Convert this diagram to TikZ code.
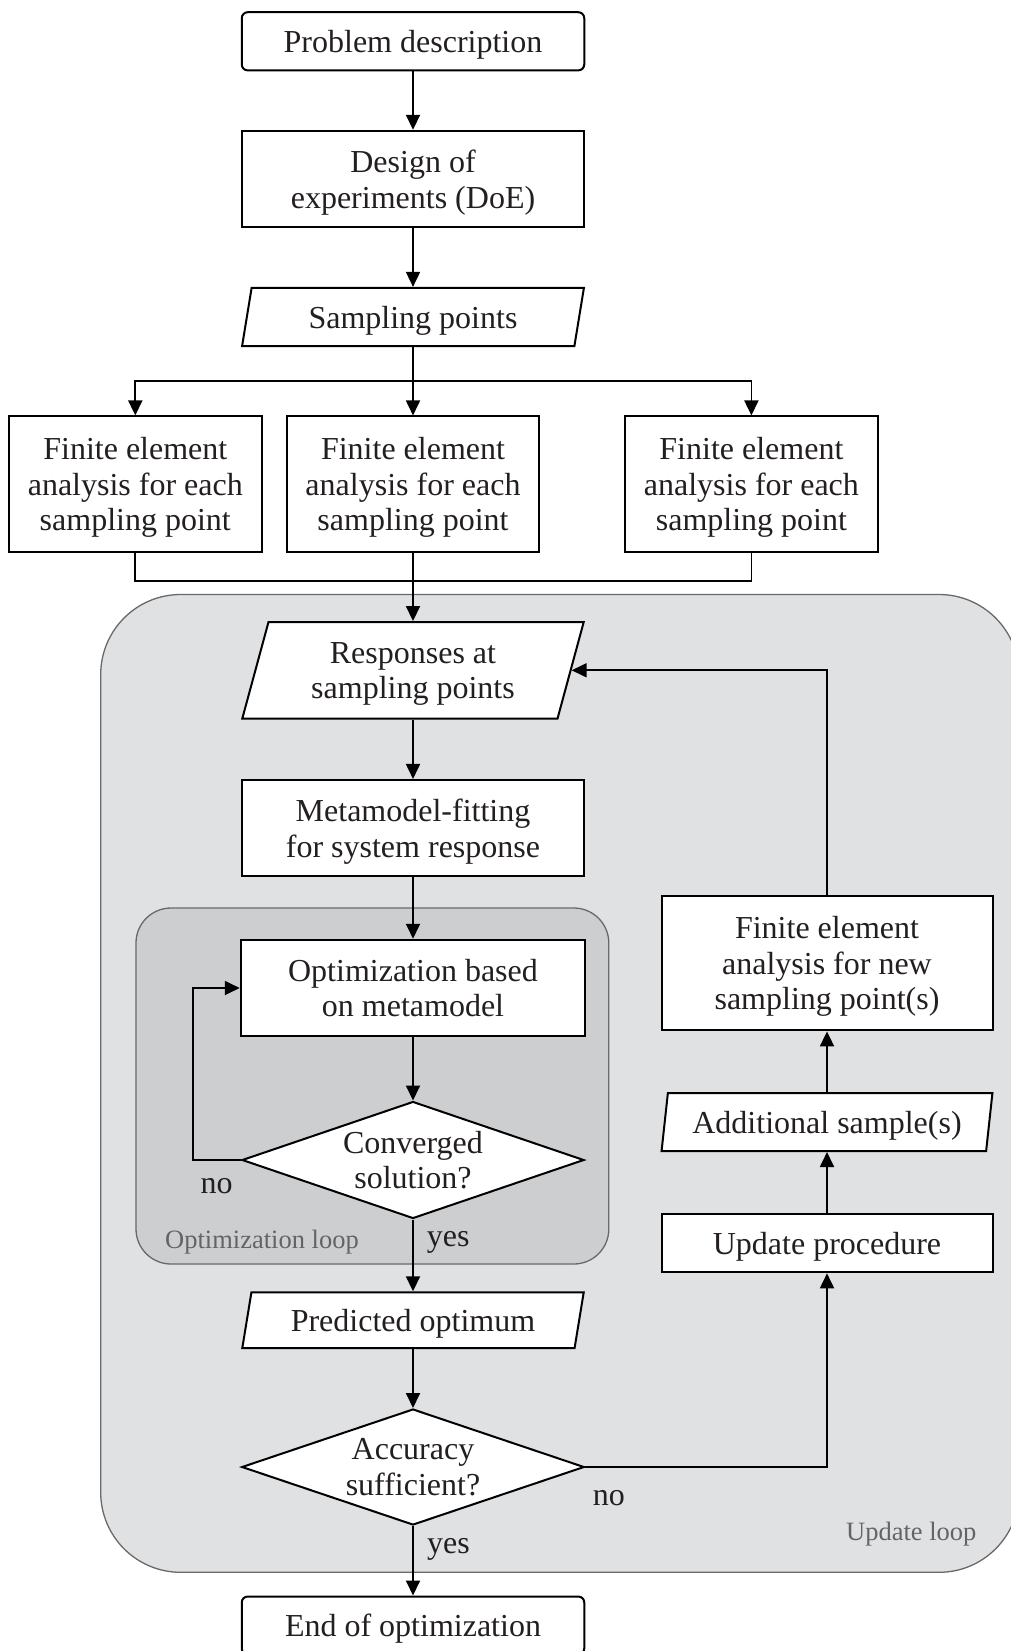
\documentclass[tikz,border=0pt]{standalone}
\usepackage{fontspec}
\setmainfont{Liberation Serif}
\usetikzlibrary{shapes.geometric,arrows.meta}
\definecolor{bigfill}{RGB}{224,225,227}
\definecolor{optfill}{RGB}{205,206,208}
\definecolor{regline}{RGB}{105,105,105}
\definecolor{labgray}{RGB}{100,100,102}
\definecolor{textc}{RGB}{35,31,32}
\begin{document}
\begin{tikzpicture}[x=1pt,y=-1pt,
  txt/.style={font=\fontsize{32}{35.5}\selectfont, text=textc},
  smalltxt/.style={font=\fontsize{26.5}{30}\selectfont, text=labgray},
  box/.style={draw, line width=2pt, fill=white, inner sep=0pt, align=center, txt, rectangle, text depth=0pt},
  rbox/.style={box, rounded corners=6pt},
  para/.style={box, trapezium, trapezium stretches=true},
  dia/.style={box, diamond, aspect=2.92},
  conn/.style={line width=1.8pt, draw=black},
  arr/.style={conn, -{Triangle[length=15pt,width=14pt]}},
  region/.style={draw=regline, line width=1.3pt}
]
\useasboundingbox (0,0) rectangle (1010,1651);

% background regions
\draw[region, fill=bigfill, rounded corners=80pt] (100.7,594.5) rectangle (1019,1572.3);
\draw[region, fill=optfill, rounded corners=35pt] (136,908) rectangle (608.8,1264);

% nodes
\node[rbox, minimum width=342.5pt, minimum height=58.2pt] (prob) at (413,41.3) {Problem description};
\node[box, minimum width=342.5pt, minimum height=96.4pt] (doe) at (413,179) {Design of\\experiments (DoE)};
\node[para, trapezium left angle=74.5, trapezium right angle=105.5, minimum width=342.1pt, minimum height=58.2pt] (samp) at (413,317) {Sampling points};
\node[box, minimum width=252.5pt, minimum height=135.5pt] (fe1) at (135.3,484.2) {Finite element\\analysis for each\\sampling point};
\node[box, minimum width=252.5pt, minimum height=135.5pt] (fe2) at (413,484.2) {Finite element\\analysis for each\\sampling point};
\node[box, minimum width=253pt, minimum height=135.5pt] (fe3) at (751.4,484.2) {Finite element\\analysis for each\\sampling point};
\node[para, trapezium left angle=71.9, trapezium right angle=108.1, minimum width=342.1pt, minimum height=96.5pt] (resp) at (413,670.3) {Responses at\\sampling points};
\node[box, minimum width=342.5pt, minimum height=96.5pt] (meta) at (413,828.2) {Metamodel-fitting\\for system response};
\node[box, minimum width=344.5pt, minimum height=96.5pt] (opt) at (413,988) {Optimization based\\on metamodel};
\node[dia, minimum width=342pt, minimum height=117pt] (conv) at (413,1160) {Converged\\solution?};
\node[para, trapezium left angle=72.7, trapezium right angle=107.3, minimum width=342.5pt, minimum height=55.8pt] (pred) at (413,1320.2) {Predicted optimum};
\node[dia, minimum width=342.5pt, minimum height=116pt] (acc) at (413,1467) {Accuracy\\sufficient?};
\node[rbox, minimum width=342.5pt, minimum height=58pt] (end) at (413,1625.5) {End of optimization};
\node[box, minimum width=331pt, minimum height=134.4pt] (fenew) at (827,963.2) {Finite element\\analysis for new\\sampling point(s)};
\node[para, trapezium left angle=76.5, trapezium right angle=103.5, minimum width=331pt, minimum height=58pt] (add) at (827,1122) {Additional sample(s)};
\node[box, minimum width=331pt, minimum height=58pt] (upd) at (827,1243.3) {Update procedure};

% helper coordinates
\coordinate (split) at (413,381.2);
\coordinate (merge) at (413,580.9);
\coordinate (noloop) at (192.6,1160);

% connectors
\draw[arr] (prob) -- (doe);
\draw[arr] (doe.south) -- (doe.south |- samp.north);
\draw[conn] (samp.center |- samp.south) -- (split);
\draw[arr] (split) -| (fe1.north);
\draw[arr] (split) -- (fe2.north);
\draw[arr] (split) -| (fe3.north);
\draw[conn] (fe1.south) |- (merge) -| (fe3.south);
\draw[arr] (fe2.south) -- (fe2.south |- resp.north);
\draw[arr] (meta.north |- resp.south) -- (meta.north);
\draw[arr] (meta) -- (opt);
\draw[arr] (opt) -- (conv);
\draw[arr] (conv.west) -- (noloop) |- (opt.west);
\draw[arr] (conv.south) -- (conv.south |- pred.north);
\draw[arr] (acc.north |- pred.south) -- (acc.north);
\draw[arr] (acc.south) -- (end.north);
\draw[arr] (acc.east) -| (upd.south);
\draw[arr] (upd.north) -- (upd.north |- add.south);
\draw[arr] (fenew.south |- add.north) -- (fenew.south);
\draw[arr] (fenew.north) |- (resp.east);

% labels
\node[txt, anchor=base, inner sep=0pt] (nolab1) at (216.7,1193.3) {no};
\node[txt, anchor=base west, inner sep=0pt] (yeslab1) at (426.7,1246.7) {yes};
\node[txt, anchor=base west, inner sep=0pt] (nolab2) at (592.6,1505.5) {no};
\node[txt, anchor=base west, inner sep=0pt] (yeslab2) at (427,1553.5) {yes};
\node[smalltxt, anchor=base west, inner sep=0pt] (optlab) at (165,1248) {Optimization loop};
\node[smalltxt, anchor=base west, inner sep=0pt] (updlab) at (846,1540) {Update loop};
\end{tikzpicture}
\end{document}
